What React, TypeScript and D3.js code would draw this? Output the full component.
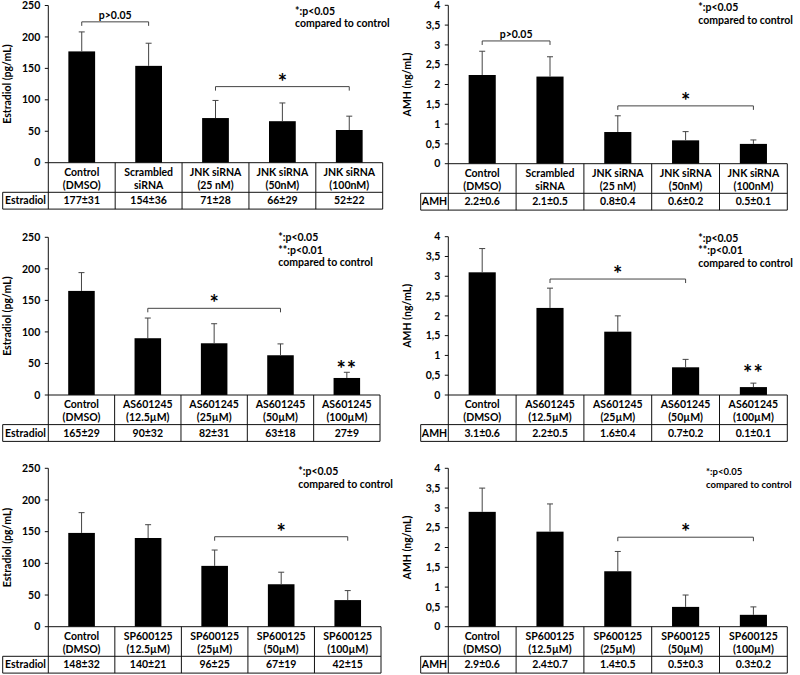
import React from "react";
import * as d3 from "d3";

const W = 800;
const H = 675;
const FONT = "Lato, 'Open Sans', sans-serif";
const FS = 10.5;

// ---------- categories ----------
const jnkCategories = [["Control", "(DMSO)"], ["Scrambled", "siRNA"], ["JNK siRNA", "(25 nM)"], ["JNK siRNA", "(50nM)"], ["JNK siRNA", "(100nM)"]];
const asCategories = [["Control", "(DMSO)"], ["AS601245", "(12.5µM)"], ["AS601245", "(25µM)"], ["AS601245", "(50µM)"], ["AS601245", "(100µM)"]];
const spCategories = [["Control", "(DMSO)"], ["SP600125", "(12.5µM)"], ["SP600125", "(25µM)"], ["SP600125", "(50µM)"], ["SP600125", "(100µM)"]];

// ---------- ticks ----------
const estradiolTicks = [0, 50, 100, 150, 200, 250];
const amhTicks = [0, 0.5, 1, 1.5, 2, 2.5, 3, 3.5, 4];

// ---------- values ----------
const jnkEstradiolMean = [177, 154, 71, 66, 52];
const jnkEstradiolSD = [31, 36, 28, 29, 22];
const jnkEstradiolTable = ["177±31", "154±36", "71±28", "66±29", "52±22"];

const jnkAmhMean = [2.24, 2.2, 0.8, 0.59, 0.5];
const jnkAmhSD = [0.6, 0.5, 0.41, 0.22, 0.1];
const jnkAmhTable = ["2.2±0.6", "2.1±0.5", "0.8±0.4", "0.6±0.2", "0.5±0.1"];

const asEstradiolMean = [165, 90, 82, 63, 27];
const asEstradiolSD = [29, 32, 31, 18, 9];
const asEstradiolTable = ["165±29", "90±32", "82±31", "63±18", "27±9"];

const asAmhMean = [3.1, 2.2, 1.6, 0.7, 0.2];
const asAmhSD = [0.6, 0.5, 0.4, 0.2, 0.1];
const asAmhTable = ["3.1±0.6", "2.2±0.5", "1.6±0.4", "0.7±0.2", "0.1±0.1"];

const spEstradiolMean = [148, 140, 96, 67, 42];
const spEstradiolSD = [32, 21, 25, 19, 15];
const spEstradiolTable = ["148±32", "140±21", "96±25", "67±19", "42±15"];

const spAmhMean = [2.9, 2.4, 1.4, 0.5, 0.3];
const spAmhSD = [0.6, 0.7, 0.5, 0.3, 0.2];
const spAmhTable = ["2.9±0.6", "2.4±0.7", "1.4±0.5", "0.5±0.3", "0.3±0.2"];

const notesOne = ["*:p<0.05", "compared to control"];
const notesTwo = ["*:p<0.05", "**:p<0.01", "compared to control"];

const commaFmt = d3.formatLocale({ decimal: ",", thousands: ".", grouping: [3], currency: ["", ""] }).format("~g");

type Bracket = { from: number; to: number; value: number; label: string; big?: boolean };

type PanelProps = {
  categories: string[][];
  means: number[];
  sds: number[];
  table: string[];
  rowLabel: string;
  yLabel: string;
  ticks: number[];
  tickFmt: (v: number) => string;
  axisX: number;
  right: number;
  y0: number;
  yTop: number;
  rowLeft: number;
  yLabelX: number;
  brackets: Bracket[];
  stars: { index: number; value: number }[];
  notes: string[];
  noteX: number;
  noteY: number;
  noteFs?: number;
};

function Panel(p: PanelProps) {
  const max = p.ticks[p.ticks.length - 1];
  const y = d3.scaleLinear().domain([0, max]).range([p.y0, p.yTop]);
  const x = d3.scaleBand<number>().domain(p.categories.map((_, i) => i)).range([p.axisX, p.right]);
  const bw = x.bandwidth();
  const barW = bw * 0.4;
  const cx = (i: number) => (x(i) as number) + bw / 2;
  const labelRowBottom = p.y0 + 29.6;
  const valRowBottom = p.y0 + 46.4;
  const stroke = "#111";
  return (
    <g fontFamily={FONT} fontWeight="bold" fill="#000">
      {/* bars */}
      {p.means.map((m, i) => (
        <rect key={"b" + i} x={cx(i) - barW / 2} y={y(m)} width={barW} height={p.y0 - y(m)} fill="#000" />
      ))}
      {/* error bars */}
      {p.means.map((m, i) => (
        <g key={"e" + i} stroke="#444" strokeWidth={1}>
          <line x1={cx(i)} x2={cx(i)} y1={y(m)} y2={y(m + p.sds[i])} />
          <line x1={cx(i) - 3} x2={cx(i) + 3} y1={y(m + p.sds[i])} y2={y(m + p.sds[i])} />
        </g>
      ))}
      {/* y axis */}
      <line x1={p.axisX} x2={p.axisX} y1={p.yTop} y2={valRowBottom} stroke={stroke} strokeWidth={1} />
      {p.ticks.map((t) => (
        <g key={"t" + t}>
          <line x1={p.axisX - 3.5} x2={p.axisX} y1={y(t)} y2={y(t)} stroke={stroke} strokeWidth={1} />
          <text x={p.axisX - 8} y={y(t)} dy="0.35em" textAnchor="end" fontSize={FS}>
            {p.tickFmt(t)}
          </text>
        </g>
      ))}
      <text
        transform={`translate(${p.yLabelX},${(p.y0 + p.yTop) / 2}) rotate(-90)`}
        textAnchor="middle"
        dy="0.35em"
        fontSize={FS}
      >
        {p.yLabel}
      </text>
      {/* table */}
      <line x1={p.axisX} x2={p.right} y1={p.y0} y2={p.y0} stroke={stroke} />
      <line x1={p.right} x2={p.right} y1={p.y0} y2={valRowBottom} stroke={stroke} />
      <line x1={p.rowLeft} x2={p.right} y1={labelRowBottom} y2={labelRowBottom} stroke={stroke} />
      <line x1={p.rowLeft} x2={p.right} y1={valRowBottom} y2={valRowBottom} stroke={stroke} />
      <line x1={p.rowLeft} x2={p.rowLeft} y1={labelRowBottom} y2={valRowBottom} stroke={stroke} />
      {p.categories.map((_, i) =>
        i > 0 ? <line key={"d" + i} x1={x(i)} x2={x(i)} y1={p.y0} y2={valRowBottom} stroke={stroke} /> : null
      )}
      <text x={(p.rowLeft + p.axisX) / 2} y={(labelRowBottom + valRowBottom) / 2} dy="0.35em" textAnchor="middle" fontSize={FS}>
        {p.rowLabel}
      </text>
      {p.categories.map((c, i) => (
        <g key={"c" + i}>
          <text x={cx(i)} y={p.y0 + 9.5} dy="0.35em" textAnchor="middle" fontSize={FS}>
            {c[0]}
          </text>
          <text x={cx(i)} y={p.y0 + 22.3} dy="0.35em" textAnchor="middle" fontSize={FS}>
            {c[1]}
          </text>
          <text x={cx(i)} y={(labelRowBottom + valRowBottom) / 2} dy="0.35em" textAnchor="middle" fontSize={FS}>
            {p.table[i]}
          </text>
        </g>
      ))}
      {/* brackets */}
      {p.brackets.map((b, k) => {
        const yy = y(b.value);
        const x1 = cx(b.from);
        const x2 = cx(b.to);
        return (
          <g key={"br" + k}>
            <path d={`M${x1},${yy + 4}V${yy}H${x2}V${yy + 4}`} fill="none" stroke="#444" strokeWidth={1} />
            {b.big ? (
              <text x={(x1 + x2) / 2} y={yy + 3} textAnchor="middle" fontSize={22}>
                {b.label}
              </text>
            ) : (
              <text x={(x1 + x2) / 2} y={yy - 3} textAnchor="middle" fontSize={FS}>
                {b.label}
              </text>
            )}
          </g>
        );
      })}
      {p.stars.map((s, k) => (
        <text key={"s" + k} x={cx(s.index)} y={y(s.value) + 13} textAnchor="middle" fontSize={22} letterSpacing={1}>
          **
        </text>
      ))}
      {/* notes */}
      {p.notes.map((n, k) => (
        <text key={"n" + k} x={p.noteX} y={p.noteY + k * 12.6} fontSize={p.noteFs ?? FS}>
          {n}
        </text>
      ))}
    </g>
  );
}

export default function App() {
  const est = (v: number) => String(v);
  return (
    <div style={{ position: "absolute", left: 0, top: 0 }}>
      <svg width={W} height={H} style={{ display: "block", background: "#fff" }}>
        <Panel
          categories={jnkCategories} means={jnkEstradiolMean} sds={jnkEstradiolSD} table={jnkEstradiolTable}
          rowLabel="Estradiol" yLabel="Estradiol (pg/mL)" ticks={estradiolTicks} tickFmt={est}
          axisX={48.3} right={382.7} y0={162.7} yTop={5.5} rowLeft={2.7} yLabelX={7}
          brackets={[{ from: 0, to: 1, value: 224, label: "p>0.05" }, { from: 2, to: 4, value: 121, label: "*", big: true }]}
          stars={[]} notes={notesOne} noteX={295} noteY={14.5}
        />
        <Panel
          categories={jnkCategories} means={jnkAmhMean} sds={jnkAmhSD} table={jnkAmhTable}
          rowLabel="AMH" yLabel="AMH (ng/mL)" ticks={amhTicks} tickFmt={commaFmt}
          axisX={448.3} right={787.3} y0={163.7} yTop={5.3} rowLeft={420.7} yLabelX={407}
          brackets={[{ from: 0, to: 1, value: 3.1, label: "p>0.05" }, { from: 2, to: 4, value: 1.46, label: "*", big: true }]}
          stars={[]} notes={notesOne} noteX={698.3} noteY={11}
        />
        <Panel
          categories={asCategories} means={asEstradiolMean} sds={asEstradiolSD} table={asEstradiolTable}
          rowLabel="Estradiol" yLabel="Estradiol (pg/mL)" ticks={estradiolTicks} tickFmt={est}
          axisX={48.3} right={380} y0={395} yTop={237.3} rowLeft={2.7} yLabelX={7}
          brackets={[{ from: 1, to: 3, value: 137.4, label: "*", big: true }]}
          stars={[{ index: 4, value: 49 }]} notes={notesTwo} noteX={278.3} noteY={241}
        />
        <Panel
          categories={asCategories} means={asAmhMean} sds={asAmhSD} table={asAmhTable}
          rowLabel="AMH" yLabel="AMH (ng/mL)" ticks={amhTicks} tickFmt={commaFmt}
          axisX={448.3} right={787.3} y0={395} yTop={236.7} rowLeft={420.7} yLabelX={407}
          brackets={[{ from: 1, to: 3, value: 2.93, label: "*", big: true }]}
          stars={[{ index: 4, value: 0.67 }]} notes={notesTwo} noteX={698.3} noteY={241.5}
        />
        <Panel
          categories={spCategories} means={spEstradiolMean} sds={spEstradiolSD} table={spEstradiolTable}
          rowLabel="Estradiol" yLabel="Estradiol (pg/mL)" ticks={estradiolTicks} tickFmt={est}
          axisX={48.3} right={381} y0={626.7} yTop={468.3} rowLeft={2.7} yLabelX={7}
          brackets={[{ from: 2, to: 4, value: 142, label: "*", big: true }]}
          stars={[]} notes={notesOne} noteX={298.3} noteY={475}
        />
        <Panel
          categories={spCategories} means={spAmhMean} sds={spAmhSD} table={spAmhTable}
          rowLabel="AMH" yLabel="AMH (ng/mL)" ticks={amhTicks} tickFmt={commaFmt}
          axisX={448.3} right={787.3} y0={626.7} yTop={468.3} rowLeft={420.7} yLabelX={407}
          brackets={[{ from: 2, to: 4, value: 2.26, label: "*", big: true }]}
          stars={[]} notes={notesOne} noteX={706} noteY={475} noteFs={9.5}
        />
      </svg>
    </div>
  );
}
